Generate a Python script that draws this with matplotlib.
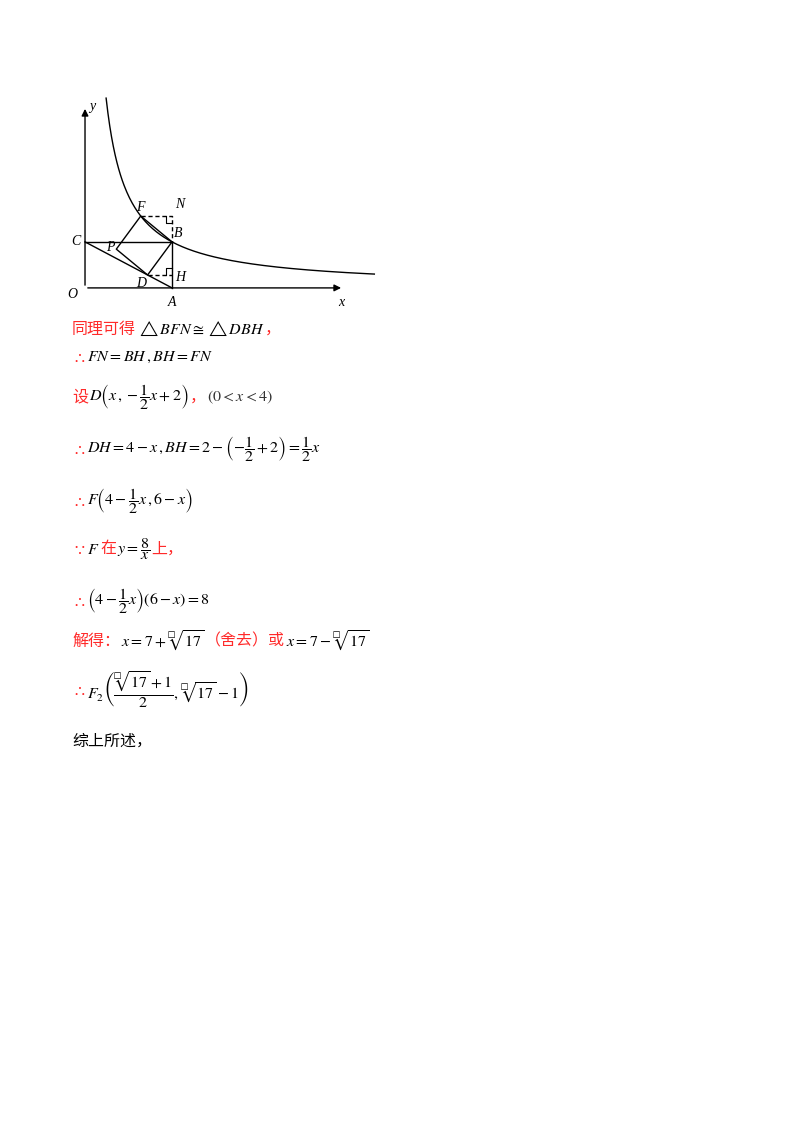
import numpy as np
import matplotlib
matplotlib.use('Agg')
import matplotlib.pyplot as plt

plt.rcParams['mathtext.fontset'] = 'stix'
CJK = ['Noto Sans CJK SC', 'DejaVu Sans']

# geometry of the problem: y = 8/x, A(4,0), C(0,2), B(4,2)
K = 8
A = (4, 0)
B = (4, 2)
C = (0, 2)
xd = 7 - np.sqrt(17)
D = (xd, -xd / 2 + 2)
F = (4 - xd / 2, 6 - xd)
H = (4, D[1])
N = (4, F[1])
P = (F[0] + D[0] - B[0], F[1] + D[1] - B[1])
curve_x = np.linspace(0.97, 13.3, 300)

fig = plt.figure(figsize=(8, 11.32), dpi=100)

# ---- diagram ----
ax = fig.add_axes([60 / 800, 1 - 310 / 1132, 330 / 800, 220 / 1132])
ax.set_xlim(-1.15, 14.02)
ax.set_ylim(-0.96, 8.6)
ax.axis('off')
k = dict(color='black', lw=1)
ax.annotate('', xy=(11.9, 0), xytext=(0, 0), arrowprops=dict(arrowstyle='-|>', color='black', lw=1))
ax.annotate('', xy=(0, 7.9), xytext=(0, 0), arrowprops=dict(arrowstyle='-|>', color='black', lw=1))
ax.plot(curve_x, K / curve_x, **k)
ax.plot([C[0], B[0]], [C[1], B[1]], **k)
ax.plot([C[0], A[0]], [C[1], A[1]], **k)
ax.plot([A[0], B[0]], [A[1], B[1]], **k)
ax.plot([B[0], F[0], P[0], D[0], B[0]], [B[1], F[1], P[1], D[1], B[1]], **k)
ax.plot([F[0], N[0], B[0]], [F[1], N[1], B[1]], color='black', lw=1, ls=(0, (3, 2)))
ax.plot([D[0], H[0]], [D[1], H[1]], color='black', lw=1, ls=(0, (3, 2)))
s = 0.3
ax.plot([N[0] - s, N[0] - s, N[0]], [N[1], N[1] - s, N[1] - s], color='black', lw=0.8)
ax.plot([H[0] - s, H[0] - s, H[0]], [H[1], H[1] + s, H[1] + s], color='black', lw=0.8)
lab = dict(fontsize=10, family='Liberation Serif', style='italic')
ax.text(-0.35, -0.3, 'O', ha='right', va='center', **lab)
ax.text(A[0], -0.35, 'A', ha='center', va='top', **lab)
ax.text(11.9, -0.35, 'x', ha='right', va='top', **lab)
ax.text(0.2, 7.9, 'y', ha='left', va='center', **lab)
ax.text(-0.2, C[1], 'C', ha='right', va='center', **lab)
ax.text(B[0] + 0.1, B[1] + 0.1, 'B', ha='left', va='bottom', **lab)
ax.text(F[0], F[1] + 0.1, 'F', ha='center', va='bottom', **lab)
ax.text(N[0] + 0.15, N[1] + 0.2, 'N', ha='left', va='bottom', **lab)
ax.text(H[0] + 0.15, H[1] - 0.1, 'H', ha='left', va='center', **lab)
ax.text(D[0] - 0.3, D[1] - 0.1, 'D', ha='center', va='top', **lab)
ax.text(P[0] - 0.1, P[1] + 0.05, 'P', ha='right', va='center', **lab)

# ---- solution text ----
RED = '#ff2a2a'
BLK = 'black'
R = fig.canvas.get_renderer()


def line(ypix, pieces, x0=72):
    x = x0
    for txt, col, fam in pieces:
        kw = dict(fontsize=11.5, color=col, va='center', ha='left')
        if fam:
            kw['family'] = fam
        t = fig.text(x / 800, 1 - ypix / 1132, txt, **kw)
        bb = t.get_window_extent(R)
        x += bb.width + 1


line(329, [('同理可得', RED, CJK), (r'$\triangle BFN\cong\triangle DBH$', BLK, None), ('，', RED, CJK)])
line(357, [(r'$\therefore$', RED, None), (r'$FN=BH\,,BH=FN$', BLK, None)])
line(397, [('设', RED, CJK), (r'$D\left(x\,,-\dfrac{1}{2}x+2\right)$', BLK, None), ('，', RED, CJK),
           (r'$\left(0<x<4\right)$', '#333333', None)])
line(449, [(r'$\therefore$', RED, None),
           (r'$DH=4-x\,,BH=2-\left(-\dfrac{1}{2}+2\right)=\dfrac{1}{2}x$', BLK, None)])
line(501, [(r'$\therefore$', RED, None), (r'$F\left(4-\dfrac{1}{2}x\,,6-x\right)$', BLK, None)])
line(549, [(r'$\because$', RED, None), (r'$F$', BLK, None), ('在', RED, CJK),
           (r'$y=\dfrac{8}{x}$', BLK, None), ('上，', RED, CJK)])
line(601, [(r'$\therefore$', RED, None),
           (r'$\left(4-\dfrac{1}{2}x\right)\left(6-x\right)=8$', BLK, None)])
line(641, [('解得：', RED, CJK), (r'$x=7+\sqrt[□]{17}$', BLK, None), ('（舍去）或', RED, CJK),
           (r'$x=7-\sqrt[□]{17}$', BLK, None)])
line(690, [(r'$\therefore$', RED, None),
           (r'$F_2\left(\dfrac{\sqrt[□]{17}+1}{2},\sqrt[□]{17}-1\right)$', BLK, None)])
line(741, [('综上所述，', BLK, CJK)])

fig.savefig('out.png', dpi=100)
